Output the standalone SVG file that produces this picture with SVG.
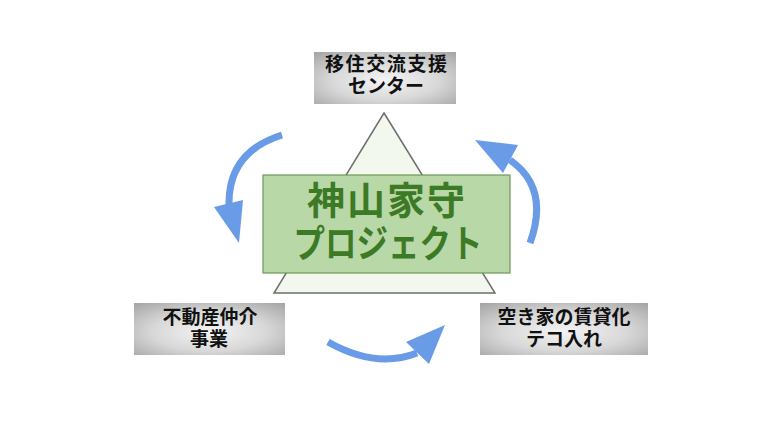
<svg xmlns="http://www.w3.org/2000/svg" width="770" height="433" viewBox="0 0 770 433">
<defs>
<radialGradient id="gray" cx="50%" cy="55%" r="75%">
<stop offset="0" stop-color="#f4f4f4"/>
<stop offset="0.5" stop-color="#d8d8d8"/>
<stop offset="1" stop-color="#a2a2a2"/>
</radialGradient>
</defs>
<style>
.box{fill:url(#gray);}
.lbl{font-family:"Liberation Sans","Noto Sans CJK JP","Noto Sans CJK SC",sans-serif;font-weight:700;font-size:19px;fill:#111;text-anchor:middle;}
.title{font-family:"Liberation Sans","Noto Sans CJK JP","Noto Sans CJK SC",sans-serif;font-weight:700;font-size:38px;fill:#3d7a26;text-anchor:middle;}
.arc{fill:none;stroke:#6a9be6;stroke-width:7;stroke-linecap:butt;}
.head{fill:#6a9be6;}
</style>
<rect width="770" height="433" fill="#ffffff"/>
<g id="triangle">
<polygon points="384,113 495,293 274,293" fill="#f3f8ee" stroke="#6e6e6e" stroke-width="1.5"/>
</g>
<g id="center">
<rect x="263" y="175" width="247" height="98" fill="#b9d8a7" stroke="#6b9a55" stroke-width="1.2"/>
<text class="title" x="386" y="213.5" textLength="158" lengthAdjust="spacing">神山家守</text>
<text class="title" x="388" y="256.5" textLength="189" lengthAdjust="spacingAndGlyphs">プロジェクト</text>
</g>
<g id="top">
<rect class="box" x="314" y="52" width="142" height="52"/>
<text class="lbl" x="386" y="71" textLength="122" lengthAdjust="spacing">移住交流支援</text>
<text class="lbl" x="386" y="93">センター</text>
</g>
<g id="left">
<rect class="box" x="134" y="303" width="151" height="52"/>
<text class="lbl" x="210" y="324">不動産仲介</text>
<text class="lbl" x="209" y="346">事業</text>
</g>
<g id="right">
<rect class="box" x="480" y="303" width="168" height="52"/>
<text class="lbl" x="564" y="324">空き家の賃貸化</text>
<text class="lbl" x="564" y="346">テコ入れ</text>
</g>
<g id="connectors">
<path class="arc" d="M282,135 Q228,152 229,205"/>
<polygon class="head" points="214,207 243,200 239,243"/>
<path class="arc" d="M530,243 Q550,188 510,160"/>
<polygon class="head" points="475,140 518,145 503,173"/>
<path class="arc" d="M328,342 Q376,369 417,353"/>
<polygon class="head" points="406,342 429,364 445,325"/>
</g>
</svg>
